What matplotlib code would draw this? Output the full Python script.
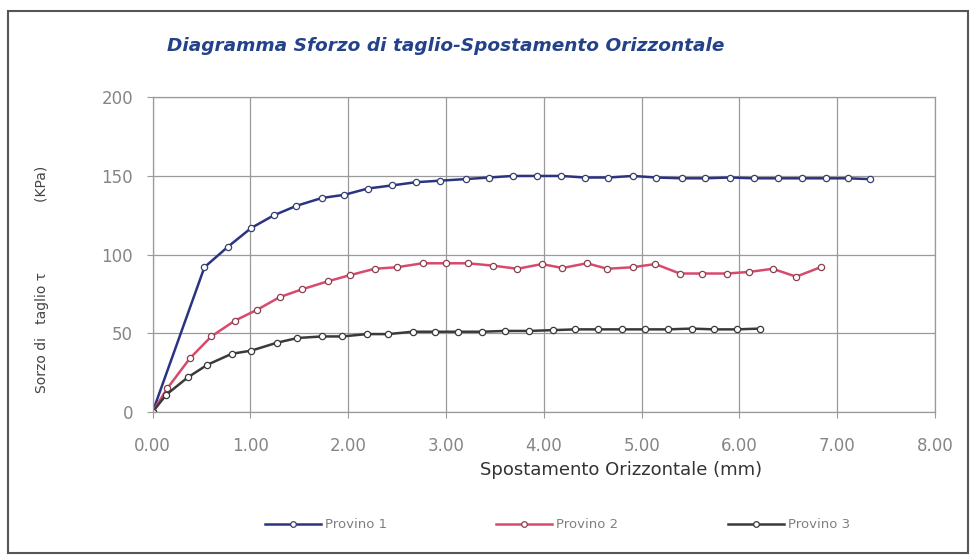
import matplotlib
matplotlib.use("Agg")
import matplotlib.pyplot as plt
from matplotlib.patches import Rectangle

plt.rcParams['font.family'] = ['DejaVu Sans']

# Provino 1 (blu)
x1 = [0, 0.53, 0.77, 1.01, 1.24, 1.47, 1.73, 1.96, 2.20, 2.45, 2.69, 2.94, 3.20, 3.44, 3.68,
      3.93, 4.18, 4.42, 4.66, 4.91, 5.15, 5.41, 5.65, 5.90, 6.15, 6.39, 6.64, 6.88, 7.11, 7.33]
y1 = [0, 92, 105, 117, 125, 131, 136, 138, 142, 144, 146, 147, 148, 149, 150,
      150, 150, 149, 149, 150, 149, 148.5, 148.5, 149, 148.5, 148.5, 148.5, 148.5, 148.5, 148]

# Provino 2 (rosso)
x2 = [0, 0.15, 0.38, 0.60, 0.84, 1.07, 1.30, 1.53, 1.79, 2.02, 2.27, 2.50, 2.76, 3.00, 3.22,
      3.48, 3.73, 3.98, 4.19, 4.44, 4.65, 4.91, 5.14, 5.39, 5.62, 5.87, 6.10, 6.34, 6.58, 6.83]
y2 = [0, 15, 34, 48, 58, 65, 73, 78, 83, 87, 91, 92, 94.5, 94.5, 94.5,
      93, 91, 94, 91.5, 94.5, 91, 92, 94, 88, 88, 88, 89, 91, 86, 92]

# Provino 3 (nero)
x3 = [0, 0.14, 0.36, 0.56, 0.81, 1.01, 1.27, 1.48, 1.73, 1.94, 2.19, 2.41, 2.66, 2.89,
      3.12, 3.37, 3.60, 3.85, 4.09, 4.32, 4.55, 4.80, 5.03, 5.27, 5.51, 5.74, 5.97, 6.21]
y3 = [0, 11, 22, 30, 37, 39, 44, 47, 48, 48, 49.5, 49.5, 51, 51,
      51, 51, 51.5, 51.5, 52, 52.5, 52.5, 52.5, 52.5, 52.5, 53, 52.5, 52.5, 53]

xticks = [0, 1, 2, 3, 4, 5, 6, 7, 8]
xlabels = ['0.00', '1.00', '2.00', '3.00', '4.00', '5.00', '6.00', '7.00', '8.00']
yticks = [0, 50, 100, 150, 200]

fig = plt.figure(figsize=(9.72, 5.59), dpi=100)
ax = fig.add_axes([0.157, 0.263, 0.805, 0.563])

mk = dict(marker='o', markersize=4.5, markerfacecolor='white', markeredgewidth=0.9)
l1, = ax.plot(x1, y1, color='#2b3383', lw=1.8, markeredgecolor='#3a3f70', label='Provino 1', **mk)
l2, = ax.plot(x2, y2, color='#d84a6c', lw=1.8, markeredgecolor='#8a4050', label='Provino 2', **mk)
l3, = ax.plot(x3, y3, color='#3a3a3a', lw=1.8, markeredgecolor='#3a3a3a', label='Provino 3', **mk)

ax.set_xlim(0, 8)
ax.set_ylim(0, 200)
ax.set_xticks(xticks)
ax.set_xticklabels(xlabels)
ax.set_yticks(yticks)
ax.grid(True, color='#9a9a9a', lw=0.9)
ax.set_axisbelow(True)
for s in ax.spines.values():
    s.set_color('#9a9a9a')
    s.set_linewidth(0.9)
ax.tick_params(colors='#9a9a9a', labelcolor='#858585', labelsize=12, length=4)
ax.tick_params(axis='x', pad=14)
ax.tick_params(axis='y', pad=10)

fig.text(480 / 972, 1 - 470 / 559, 'Spostamento Orizzontale (mm)', fontsize=13,
         color='#333333', ha='left', va='center')
fig.text(0.043, 0.501, 'Sorzo di   taglio \u03c4' + ' ' * 16 + '(KPa)', rotation=90,
         fontsize=10, color='#444444', ha='center', va='center')

fig.text(0.172, 0.918, 'Diagramma Sforzo di taglio-Spostamento Orizzontale', fontsize=13.3,
         style='italic', weight='bold', color='#24428a', ha='left', va='center')

fig.legend(handles=[l1, l2, l3], loc='center left', bbox_to_anchor=(0.26, 0.061), ncol=3,
           frameon=False, fontsize=9.5, labelcolor='#808080', handlelength=4.25,
           handletextpad=0.3, columnspacing=8.3, markerscale=0.9)

fig.patches.append(Rectangle((0.008, 0.01), 0.988, 0.97, transform=fig.transFigure,
                             fill=False, edgecolor='#555555', lw=1.5))

fig.savefig('out.png', dpi=100)
